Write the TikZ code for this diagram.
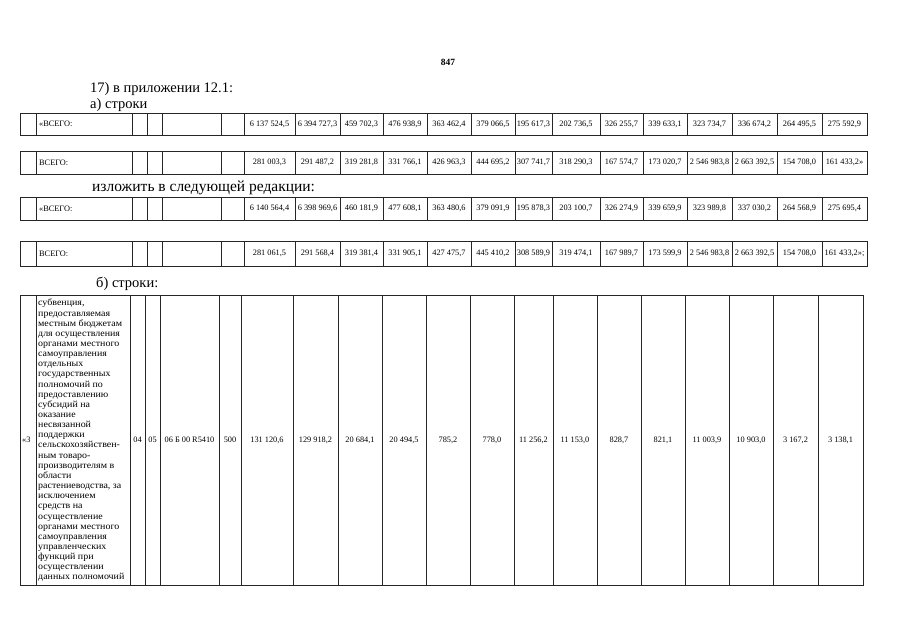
\documentclass[tikz,border=0pt]{standalone}
\usepackage{fontspec}
\setmainfont{Liberation Serif}
\newfontfamily\widefont[FakeStretch=1.07]{Liberation Serif}
\begin{document}
\begin{tikzpicture}[x=1pt,y=-1pt,
  grid/.style={draw=black!85, line width=0.8pt},
  num/.style={font=\fontsize{8.3}{9}\selectfont, inner sep=0pt},
  lab/.style={font=\fontsize{8.3}{9}\selectfont, inner sep=0pt, anchor=west},
  head/.style={font=\fontsize{14.5}{16}\selectfont, anchor=base west, inner sep=0pt}]
\useasboundingbox[fill=white] (0,0) rectangle (905,640);
\def\TX{{20,36,132,147,162,221,244,295,340,383,427,471,515,552,600,643,687,732,777,822,867}}
\def\BX{{20,36,130,145,160,219,241,293,338,382,426,470,514,553,597,641,685,729,773,818,863}}
\newcommand\mkrow[5]{%
  \draw[grid] (20,#2) rectangle (867,#3);
  \foreach \k in {1,...,19} {\pgfmathsetmacro\xx{\TX[\k]}\draw[grid] (\xx,#2) -- (\xx,#3);}
  \node[lab] (#1-lab) at (39,{(#2+#3)/2}) {#4};
  \foreach \v [count=\i] in {#5} {%
    \pgfmathsetmacro\xa{\TX[\i+5]}\pgfmathsetmacro\xb{\TX[\i+6]}%
    \node[num] (#1-\i) at ({(\xa+\xb)/2},{(#2+#3)/2}) {\v};}
}
\node[font=\bfseries\fontsize{9.5}{11}\selectfont, inner sep=0pt] (pg) at (448,62) {847};
\node[head] (h1) at (90,92) {17) в приложении 12.1:};
\node[head] (h2) at (90,108) {а) строки};
\mkrow{r1}{113}{135}{«ВСЕГО:}{{6 137 524,5},{6 394 727,3},{459 702,3},{476 938,9},{363 462,4},{379 066,5},{195 617,3},{202 736,5},{326 255,7},{339 633,1},{323 734,7},{336 674,2},{264 495,5},{275 592,9}}
\mkrow{r2}{151}{174}{ВСЕГО:}{{281 003,3},{291 487,2},{319 281,8},{331 766,1},{426 963,3},{444 695,2},{307 741,7},{318 290,3},{167 574,7},{173 020,7},{2 546 983,8},{2 663 392,5},{154 708,0},{161 433,2»}}
\node[head, font=\fontsize{15.5}{17}\selectfont] (h3) at (92,191) {изложить в следующей редакции:};
\mkrow{r3}{197}{220}{«ВСЕГО:}{{6 140 564,4},{6 398 969,6},{460 181,9},{477 608,1},{363 480,6},{379 091,9},{195 878,3},{203 100,7},{326 274,9},{339 659,9},{323 989,8},{337 030,2},{264 568,9},{275 695,4}}
\mkrow{r4}{241}{266}{ВСЕГО:}{{281 061,5},{291 568,4},{319 381,4},{331 905,1},{427 475,7},{445 410,2},{308 589,9},{319 474,1},{167 989,7},{173 599,9},{2 546 983,8},{2 663 392,5},{154 708,0},{161 433,2»;}}
\node[head] (h4) at (96,287) {б) строки:};
% bottom table
\draw[grid] (20,295) rectangle (863,585);
\foreach \k in {1,...,19} {\pgfmathsetmacro\xx{\BX[\k]}\draw[grid] (\xx,295) -- (\xx,585);}
\node[lab] (b0) at (22,440) {«3};
\node[font=\widefont\fontsize{9.3}{10.15}\selectfont, inner sep=0pt, anchor=north west, align=left] (btext) at (38,299) {субвенция,\\предоставляемая\\местным бюджетам\\для осуществления\\органами местного\\самоуправления\\отдельных\\государственных\\полномочий по\\предоставлению\\субсидий на\\оказание\\несвязанной\\поддержки\\сельскохозяйствен-\\ным товаро-\\производителям в\\области\\растениеводства, за\\исключением\\средств на\\осуществление\\органами местного\\самоуправления\\управленческих\\функций при\\осуществлении\\данных полномочий};
\node[num] (b1) at (137.5,440) {04};
\node[num] (b2) at (152.5,440) {05};
\node[num] (b3) at (189.5,440) {06 Б 00 R5410};
\node[num] (b4) at (230,440) {500};
\foreach \v [count=\i] in {{131 120,6},{129 918,2},{20 684,1},{20 494,5},{785,2},{778,0},{11 256,2},{11 153,0},{828,7},{821,1},{11 003,9},{10 903,0},{3 167,2},{3 138,1}} {%
  \pgfmathsetmacro\xa{\BX[\i+5]}\pgfmathsetmacro\xb{\BX[\i+6]}%
  \node[num] (bv\i) at ({(\xa+\xb)/2},440) {\v};}
\end{tikzpicture}
\end{document}
